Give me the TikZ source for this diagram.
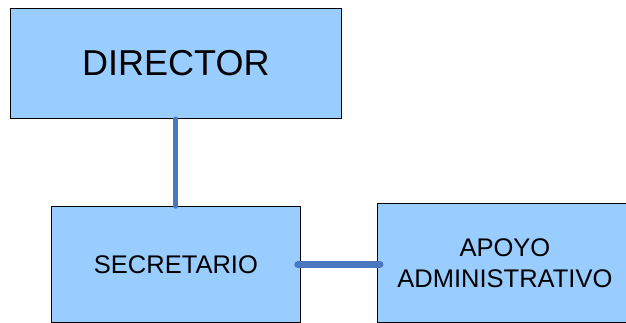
\documentclass[tikz,border=0pt]{standalone}
\usepackage{fontspec}
\setmainfont{Liberation Sans}
\definecolor{boxfill}{HTML}{99CCFF}
\definecolor{linkblue}{HTML}{4A78C0}
\begin{document}
\begin{tikzpicture}[x=1pt,y=1pt,
  orgbox/.style={draw=black,line width=0.8pt,fill=boxfill,inner sep=0pt,anchor=south west,align=center},
  link/.style={draw=linkblue,line cap=round}]
\useasboundingbox (0,0) rectangle (626,322);
\begin{scope}
\clip (0,0) rectangle (626,322);
\node[orgbox,minimum width=331pt,minimum height=110pt,font=\fontsize{36}{43}\selectfont] (dir) at (10,203) {DIRECTOR};
\node[orgbox,minimum width=249pt,minimum height=116pt,font=\fontsize{25.5}{31}\selectfont] (sec) at (51,-1) {SECRETARIO};
\node[orgbox,minimum width=255pt,minimum height=119pt,font=\fontsize{25.5}{31}\selectfont] (apo) at (377,-1) {APOYO\\ADMINISTRATIVO};
\draw[link,line width=5pt] (dir.south) -- (sec.north);
\draw[link,line width=7pt] ([xshift=-3pt]sec.east) -- ([xshift=3pt]sec.east -| apo.west);
\end{scope}
\end{tikzpicture}
\end{document}
